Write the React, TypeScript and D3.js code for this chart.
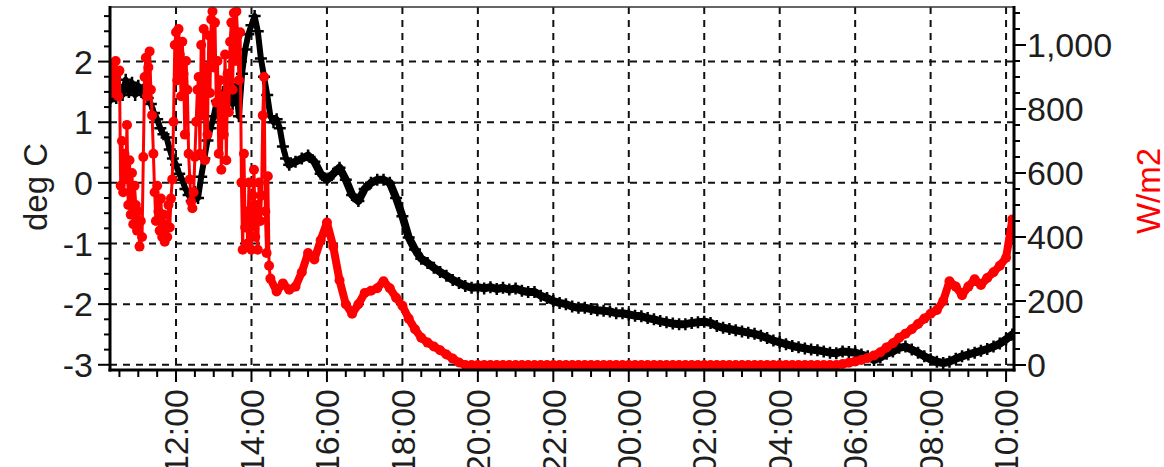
import React from "react";
import * as d3 from "d3";

const WIDTH = 1164;
const HEIGHT = 467;

// Air temperature (deg C), 5-minute samples from 10:15
const tempDayStart = "10:15";
const tempDayStep = 5;
const tempDay = [
  1.35, 1.5, 1.4, 1.6, 1.45, 1.7, 1.5, 1.65, 1.45, 1.6, 1.5, 1.6,
  1.4, 1.3, 1.15, 1.05, 0.9, 0.8, 0.75, 0.55, 0.4, 0.3, 0.15, 0.05,
  -0.1, -0.2, -0.3, -0.15, -0.25, 0.1, 0.4, 0.7, 0.9, 1.1, 1.35, 1.0,
  1.5, 1.2, 1.7, 1.3, 1.6, 1.1, 1.8, 2.2, 2.45, 2.6, 2.75, 2.5,
  2.05, 1.75, 1.45, 1.1, 1.0, 1.05, 0.9, 0.6, 0.4,
];

// Air temperature (deg C), 10-minute samples from 15:00 to 10:10 next morning
const tempNightStart = "15:00";
const tempNightStep = 10;
const tempNight = [
  0.3, 0.35, 0.4, 0.45, 0.35, 0.15,
  0.05, 0.15, 0.25, 0.05, -0.2, -0.3,
  -0.1, 0.0, 0.05, 0.05, 0.0, -0.25,
  -0.55, -0.9, -1.1, -1.25, -1.32, -1.4,
  -1.47, -1.53, -1.6, -1.65, -1.7, -1.73,
  -1.72, -1.74, -1.72, -1.75, -1.73, -1.76,
  -1.74, -1.78, -1.8, -1.8, -1.86, -1.9,
  -1.95, -1.98, -2.0, -2.04, -2.06, -2.06,
  -2.08, -2.1, -2.11, -2.12, -2.15, -2.15,
  -2.17, -2.19, -2.2, -2.23, -2.25, -2.28,
  -2.3, -2.32, -2.33, -2.33, -2.31, -2.3,
  -2.29, -2.31, -2.36, -2.39, -2.41, -2.43,
  -2.45, -2.47, -2.49, -2.52, -2.56, -2.6,
  -2.63, -2.66, -2.69, -2.71, -2.73, -2.75,
  -2.76, -2.78, -2.8, -2.81, -2.78, -2.79,
  -2.8, -2.83, -2.86, -2.92, -2.88, -2.82,
  -2.78, -2.72, -2.7, -2.75, -2.8, -2.86,
  -2.91, -2.95, -2.97, -2.95, -2.9, -2.86,
  -2.83, -2.8, -2.77, -2.74, -2.7, -2.65,
  -2.58, -2.5,
];

// Solar radiation (W/m2), 2-minute samples from 10:16
const radDayStart = "10:16";
const radDayStep = 2;
const radDay = [
  900, 850, 930, 870, 950, 910, 840, 920,
  560, 700, 540, 660, 580, 750, 500, 640, 470, 600, 440, 560, 500, 420, 480, 370, 450, 400,
  650, 900, 960, 840, 930, 980, 860, 780,
  660, 540, 450, 560, 480, 420, 520, 400, 470, 385, 440, 400, 500, 430, 520, 580,
  760, 1000, 1040, 890, 1050, 970, 840, 1010, 910, 720, 950, 860, 660,
  580, 510, 490, 540, 650, 760, 860,
  900, 660, 1000, 780, 1050, 640, 930, 720, 1030, 850,
  1080, 1105, 930, 1070, 820,
  950, 660, 890, 610, 840, 720, 970, 640, 910, 790, 1010,
  1070, 860, 1100, 950, 1105, 1030, 890,
  1040, 570, 360, 660, 430,
  480, 380, 570, 430, 360, 530, 610, 400, 500, 360, 570, 450, 530, 780, 900, 480, 350,
  590, 310,
];

// Solar radiation (W/m2), 10-minute samples from 14:30 to 10:10 next morning
const radRestStart = "14:30";
const radRestStep = 10;
const radRest = [
  270, 230, 255,
  235, 245, 290, 350, 330, 390,
  445, 370, 265, 190, 160, 190,
  225, 232, 240, 262, 240, 210,
  185, 145, 112, 85, 70, 58,
  46, 33, 20, 8, 0, 0,
  0, 0, 0, 0, 0, 0,
  0, 0, 0, 0, 0, 0,
  0, 0, 0, 0, 0, 0,
  0, 0, 0, 0, 0, 0,
  0, 0, 0, 0, 0, 0,
  0, 0, 0, 0, 0, 0,
  0, 0, 0, 0, 0, 0,
  0, 0, 0, 0, 0, 0,
  0, 0, 0, 0, 0, 0,
  0, 0, 0, 0,
  3, 7,
  11, 16, 22, 30, 40, 55,
  68, 85, 98, 112, 128, 145,
  160, 172, 200, 262, 245, 218,
  245, 268, 250, 272, 290, 310,
  335, 455,
];

const timeTicks = [
  "12:00", "14:00", "16:00", "18:00", "20:00", "22:00",
  "00:00", "02:00", "04:00", "06:00", "08:00", "10:00",
];
const tempTicks = [-3, -2, -1, 0, 1, 2];
const radTicks = [0, 200, 400, 600, 800, 1000];

// "HH:MM" -> hours since midnight of the first day (morning hours roll over)
function toHours(s: string): number {
  const [h, m] = s.split(":").map(Number);
  const v = h + m / 60;
  return v < 10.25 ? v + 24 : v;
}

type Pt = { t: number; v: number };
function sampled(start: string, stepMin: number, values: number[]): Pt[] {
  const t0 = toHours(start);
  return values.map((v, i) => ({ t: t0 + (i * stepMin) / 60, v }));
}

const tempDaySeries = sampled(tempDayStart, tempDayStep, tempDay);
const tempNightSeries = sampled(tempNightStart, tempNightStep, tempNight);
const radDaySeries = sampled(radDayStart, radDayStep, radDay);
const radRestSeries = sampled(radRestStart, radRestStep, radRest);
const tempSeries = [...tempDaySeries, ...tempNightSeries];
const radSeries = [...radDaySeries, ...radRestSeries];

const L = 110;
const R = 1014;
const T = 7;
const B = 370;

const FONT = "'Liberation Sans', Arial, sans-serif";
const TEXT = "#1e1e1e";
const RED = "#ff0000";

export default function App() {
  const x = d3.scaleLinear().domain([10.25, 34.21]).range([L, R]);
  const yT = d3.scaleLinear().domain([-3.086, 2.9]).range([B, T]);
  const yW = d3.scaleLinear().domain([-15.6, 1118.75]).range([B, T]);

  const tLine = d3
    .line<Pt>()
    .x((d) => x(d.t))
    .y((d) => yT(d.v));
  const wLine = d3
    .line<Pt>()
    .x((d) => x(d.t))
    .y((d) => yW(d.v));

  // the busy daytime stretch is drawn thinner than the smooth evening/night trace
  const tempDayPath = tLine([...tempDaySeries, tempNightSeries[0]]) as string;
  const tempNightPath = tLine(tempNightSeries) as string;
  const radDayPath = wLine([...radDaySeries, radRestSeries[0]]) as string;
  const radRestPath = wLine(radRestSeries) as string;

  const hourMinor = d3.range(10.5, 34.01, 0.5);
  const tempMinor = d3.range(-3, 2.9, 0.25);
  const radMinor = d3.range(0, 1101, 50);
  const fmt = d3.format(",");

  return (
    <svg
      width={WIDTH}
      height={HEIGHT}
      style={{ position: "absolute", left: 0, top: 0, background: "#fff" }}
      fontFamily={FONT}
    >
      <defs>
        <clipPath id="plot">
          <rect x={L} y={T - 2} width={R - L} height={B - T + 2} />
        </clipPath>
      </defs>
      <rect x={0} y={0} width={WIDTH} height={HEIGHT} fill="#fff" />

      {/* dashed grid */}
      <g stroke="#111" strokeWidth={2} strokeDasharray="7,6" fill="none">
        {tempTicks.map((v) => (
          <line key={"h" + v} x1={L} x2={R} y1={yT(v)} y2={yT(v)} />
        ))}
        {timeTicks.map((s) => (
          <line key={"v" + s} x1={x(toHours(s))} x2={x(toHours(s))} y1={T} y2={B} />
        ))}
      </g>

      <g clipPath="url(#plot)">
        {/* temperature: line with + markers */}
        <g fill="none" stroke="#000" strokeLinejoin="round" strokeLinecap="round">
          <path d={tempDayPath} strokeWidth={6} />
          <path d={tempNightPath} strokeWidth={8} />
        </g>
        <g stroke="#000" strokeWidth={2.5}>
          {tempSeries.map((d, i) => (
            <path
              key={i}
              d={`M${x(d.t) - 6},${yT(d.v)}h12M${x(d.t)},${yT(d.v) - 6}v12`}
            />
          ))}
        </g>
        {/* radiation: line with circle markers */}
        <g fill="none" stroke={RED} strokeLinejoin="round" strokeLinecap="round">
          <path d={radDayPath} strokeWidth={3} />
          <path d={radRestPath} strokeWidth={8} />
        </g>
        <g fill={RED}>
          {radSeries.map((d, i) => (
            <circle key={i} cx={x(d.t)} cy={yW(d.v)} r={5} />
          ))}
        </g>
      </g>

      {/* frame */}
      <line x1={L} x2={R} y1={T} y2={T} stroke="#333" strokeWidth={1.5} />
      <g stroke="#000" strokeWidth={3}>
        <line x1={L} x2={L} y1={T - 1} y2={B + 1.5} />
        <line x1={R} x2={R} y1={T - 1} y2={B + 1.5} />
        <line x1={L - 1.5} x2={R + 1.5} y1={B} y2={B} />
      </g>

      {/* ticks */}
      <g stroke="#000" strokeWidth={2}>
        {hourMinor.map((h) => {
          const major = Math.abs(h % 2) < 1e-6;
          return (
            <line key={"xt" + h} x1={x(h)} x2={x(h)} y1={B} y2={B + (major ? 12 : 7)} />
          );
        })}
        {tempMinor.map((v) => {
          const major = Math.abs(v - Math.round(v)) < 1e-6;
          return (
            <line key={"lt" + v} x1={L - (major ? 12 : 6)} x2={L} y1={yT(v)} y2={yT(v)} />
          );
        })}
        {radMinor.map((v) => {
          const major = v % 200 === 0 && v <= 1000;
          return (
            <line key={"rt" + v} x1={R} x2={R + (major ? 12 : 6)} y1={yW(v)} y2={yW(v)} />
          );
        })}
      </g>

      {/* tick labels */}
      <g fontSize={34} fill={TEXT}>
        {tempTicks.map((v) => (
          <text key={"ll" + v} x={93} y={yT(v)} dy="0.36em" textAnchor="end">
            {v}
          </text>
        ))}
        {radTicks.map((v) => (
          <text key={"rl" + v} x={1027} y={yW(v)} dy="0.36em" textAnchor="start">
            {fmt(v)}
          </text>
        ))}
        {timeTicks.map((s) => (
          <text
            key={"xl" + s}
            transform={`translate(${x(toHours(s))},389) rotate(-90)`}
            dy="0.36em"
            textAnchor="end"
          >
            {s}
          </text>
        ))}
      </g>

      {/* axis titles */}
      <text
        transform="translate(35,187) rotate(-90)"
        dy="0.36em"
        textAnchor="middle"
        fontSize={33}
        fill={TEXT}
      >
        deg C
      </text>
      <text
        transform="translate(1148,191) rotate(-90)"
        dy="0.36em"
        textAnchor="middle"
        fontSize={33}
        fill={RED}
      >
        W/m2
      </text>
    </svg>
  );
}
